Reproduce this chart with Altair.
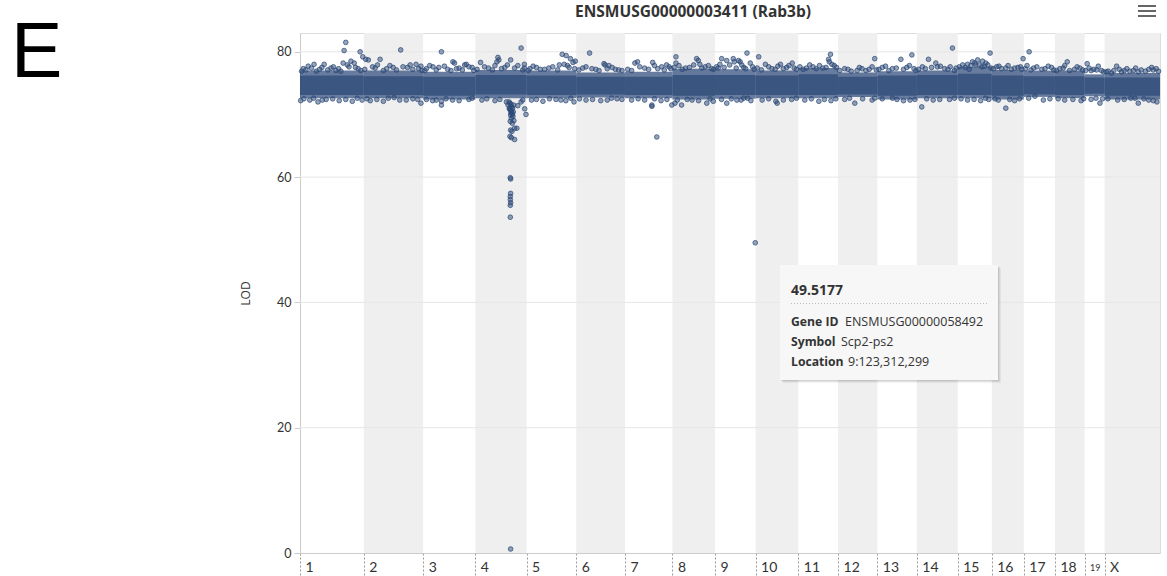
import altair as alt
import pandas as pd

# ---------------- data ----------------
chrom_names = ["1", "2", "3", "4", "5", "6", "7", "8", "9", "10",
               "11", "12", "13", "14", "15", "16", "17", "18", "19", "X"]
chrom_len_mb = [195.15, 181.76, 159.75, 156.86, 151.76, 149.59, 144.99, 130.13, 124.36, 130.53,
                121.97, 120.09, 120.88, 125.14, 104.07, 98.01, 95.29, 90.72, 61.42, 169.48]

# dense core of the LOD cloud per chromosome (outer / inner envelope)
band_outer_lo = [72.6, 72.6, 72.4, 72.6, 72.6, 72.7, 72.6, 72.4, 72.5, 72.6,
                 72.6, 72.8, 72.4, 72.6, 72.6, 72.4, 72.8, 72.6, 72.9, 72.4]
band_inner_lo = [73.1, 73.1, 73.0, 73.2, 73.1, 73.2, 73.1, 73.0, 73.1, 73.1,
                 73.1, 73.2, 73.0, 73.1, 73.1, 73.0, 73.2, 73.1, 73.3, 73.0]
band_inner_hi = [76.2, 76.1, 76.0, 76.3, 76.2, 76.0, 76.0, 76.3, 76.3, 76.2,
                 76.4, 76.0, 76.2, 76.3, 76.5, 76.2, 76.1, 76.1, 75.9, 75.9]
band_outer_hi = [77.0, 77.0, 76.8, 77.1, 77.0, 76.7, 76.8, 77.3, 77.2, 77.0,
                 77.4, 76.7, 76.9, 77.0, 77.6, 77.1, 77.0, 77.0, 76.4, 76.6]

# individual points outside the core: (position in Mb, LOD)
chr1_pts = [(10, 77.3), (25, 77.7), (43, 78.0), (60, 77.2), (74, 78.0), (95, 77.4), (110, 77.0),
            (132, 78.2), (140, 81.5), (135, 80.2), (150, 77.6), (156, 78.5), (166, 78.2), (184, 80.0),
            (192, 79.2), (178, 77.3), (2, 72.2), (30, 72.3), (55, 72.0), (80, 72.4), (120, 72.2),
            (160, 72.1), (190, 72.3),
            (5, 76.9), (18, 77.1), (35, 77.4), (50, 76.9), (67, 77.5), (85, 77.1), (102, 77.6),
            (118, 77.3), (125, 76.9), (145, 77.9), (170, 77.5), (186, 77.0), (12, 72.5), (42, 72.6),
            (68, 72.3), (100, 72.5), (140, 72.4), (175, 72.6)]
chr2_pts = [(6, 78.8), (14, 78.7), (27, 77.6), (50, 78.8), (70, 77.3), (90, 77.5), (113, 80.3),
            (134, 77.5), (150, 77.2), (160, 78.0), (175, 77.7), (20, 72.2), (60, 72.1), (93, 72.7),
            (130, 72.3), (175, 71.8), (165, 72.4),
            (3, 77.2), (35, 77.4), (42, 77.9), (60, 77.0), (80, 77.8), (100, 77.1), (120, 77.6),
            (142, 77.9), (168, 77.3), (178, 77.0), (10, 72.5), (40, 72.4), (75, 72.6), (110, 72.3),
            (150, 72.5)]
chr3_pts = [(10, 77.3), (30, 77.6), (56, 80.0), (75, 77.2), (91, 78.4), (96, 78.2), (110, 77.4),
            (127, 77.9), (132, 78.0), (150, 77.5), (29, 72.2), (56, 72.1), (56, 71.5), (90, 72.3),
            (140, 72.4),
            (5, 77.0), (20, 77.8), (40, 77.1), (48, 77.5), (65, 77.7), (85, 77.0), (102, 77.3),
            (120, 77.1), (140, 77.6), (155, 77.0), (10, 72.4), (40, 72.3), (70, 72.5), (110, 72.2),
            (150, 72.6)]
chr4_pts = [(16, 78.3), (40, 77.4), (66, 78.4), (69, 79.1), (72, 78.7), (90, 77.5), (108, 78.7),
            (140, 80.6), (150, 78.0), (150, 77.4), (20, 72.3), (60, 72.2), (95, 72.0), (100, 71.5),
            (105, 71.0), (107, 70.8), (110, 70.5), (112, 70.2), (108, 69.9), (115, 69.7), (110, 69.4),
            (118, 69.0), (107, 68.9), (113, 68.6), (120, 67.8), (108, 67.5), (127, 67.8), (112, 67.3),
            (106, 66.5), (120, 66.0), (110, 66.3), (151, 70.9), (155, 70.0), (130, 71.4), (140, 72.0),
            (103, 72.0), (106, 71.8), (109, 71.6), (111, 71.2), (114, 71.0), (117, 71.5), (104, 70.9),
            (113, 70.0), (116, 70.4), (109, 70.3), (107, 59.9), (108, 59.7), (108, 57.4), (107, 56.9),
            (107, 56.4), (108, 55.9), (107, 55.5), (107, 53.6), (108, 0.64),
            (5, 77.2), (28, 77.6), (52, 77.1), (60, 77.8), (80, 77.3), (98, 77.9), (120, 77.4),
            (130, 77.8), (145, 77.1), (35, 72.5), (75, 72.4), (145, 72.3)]
chr5_pts = [(10, 77.3), (30, 77.5), (55, 77.2), (80, 77.6), (109, 79.6), (121, 79.4), (134, 78.9),
            (142, 78.3), (149, 78.5), (125, 77.8), (15, 72.3), (50, 72.1), (90, 72.4), (120, 72.2),
            (145, 72.0),
            (5, 77.0), (20, 77.7), (42, 77.2), (68, 77.4), (95, 77.1), (100, 77.9), (115, 78.0),
            (130, 77.5), (147, 77.3), (30, 72.4), (70, 72.5), (105, 72.3), (135, 72.6)]
chr6_pts = [(41, 79.8), (88, 77.9), (85, 78.1), (20, 77.4), (60, 77.2), (110, 77.5), (130, 77.1),
            (108, 72.6), (30, 72.3), (75, 72.2), (140, 72.4),
            (8, 77.1), (30, 77.6), (48, 77.3), (70, 77.0), (95, 77.3), (100, 77.8), (120, 77.2),
            (140, 77.0), (10, 72.5), (50, 72.4), (95, 72.3), (125, 72.5)]
chr7_pts = [(30, 78.2), (38, 78.4), (60, 77.4), (84.5, 78.3), (112, 77.6), (127, 77.9), (140, 77.3),
            (82, 71.5), (82, 71.3), (143, 71.5), (20, 72.3), (110, 72.2), (97, 66.4),
            (8, 77.2), (20, 77.0), (45, 77.6), (72, 77.2), (90, 77.8), (100, 77.3), (120, 77.1),
            (135, 77.6), (40, 72.5), (60, 72.3), (90, 72.5), (128, 72.4)]
chr8_pts = [(10.7, 79.2), (10.7, 78.2), (40, 77.4), (74, 78.9), (79, 78.6), (84, 78.0), (100, 77.6),
            (120, 77.3), (7.6, 71.8), (28, 71.5), (105, 71.8), (125, 72.1), (60, 72.3),
            (5, 77.5), (20, 77.8), (30, 77.2), (52, 77.5), (65, 77.9), (90, 77.4), (110, 77.8),
            (126, 77.2), (15, 72.3), (45, 72.4), (80, 72.2), (115, 72.5)]
chr9_pts = [(20.5, 78.9), (36, 78.6), (56, 78.9), (59, 78.4), (72, 78.6), (77, 78.4), (98, 79.8),
            (108, 78.2), (88, 77.5), (10, 77.4), (36, 71.8), (67, 72.3), (88, 72.6), (110, 72.2),
            (123.31, 49.5177),
            (5, 77.6), (15, 78.0), (28, 77.5), (45, 77.9), (65, 77.4), (82, 77.9), (94, 77.3),
            (115, 77.6), (120, 77.2), (20, 72.4), (50, 72.5), (80, 72.3), (100, 72.6)]
chr10_pts = [(9.5, 79.2), (30, 78.0), (50, 77.3), (76, 78.0), (95, 77.5), (112, 78.2), (125, 77.2),
             (66, 71.8), (62, 72.1), (20, 72.3), (110, 72.4),
             (5, 77.4), (18, 77.1), (40, 77.6), (60, 77.2), (68, 77.7), (85, 77.3), (102, 77.8),
             (118, 77.4), (40, 72.5), (85, 72.3), (125, 72.6)]
chr11_pts = [(25, 77.4), (45, 77.6), (93, 78.8), (95, 78.4), (98.6, 79.6), (110, 77.8), (75, 77.4),
             (63, 72.1), (20, 72.3), (100, 72.2),
             (5, 77.6), (15, 77.2), (35, 77.9), (55, 77.3), (65, 77.8), (85, 77.5), (103, 78.0),
             (117, 77.5), (40, 72.5), (80, 72.4), (115, 72.5)]
chr12_pts = [(20, 77.3), (58, 77.0), (73, 77.3), (112, 78.9), (95, 77.2), (51, 71.8), (104, 72.3),
             (20, 72.4),
             (5, 77.0), (30, 77.2), (40, 76.9), (65, 77.5), (85, 77.0), (104, 77.6), (117, 77.1),
             (35, 72.6), (75, 72.5), (112, 72.6)]
chr13_pts = [(25, 77.7), (46, 77.3), (72, 78.8), (105.6, 79.5), (90, 77.5), (46.5, 72.6), (80, 72.2),
             (115, 72.4),
             (5, 77.2), (15, 77.5), (35, 77.0), (58, 77.4), (80, 77.2), (98, 77.8), (112, 77.3),
             (118, 77.0), (15, 72.5), (60, 72.4), (100, 72.3)]
chr14_pts = [(17, 77.6), (35.5, 78.8), (58, 78.2), (63, 77.6), (85, 77.3), (109, 80.6), (120, 77.4),
             (15, 71.2), (50, 72.3), (100, 72.4),
             (5, 77.2), (26, 77.3), (45, 77.5), (72, 77.7), (95, 77.2), (102, 77.6), (115, 77.0),
             (30, 72.5), (70, 72.4), (115, 72.6)]
chr15_pts = [(23, 77.5), (45, 78.4), (61, 78.7), (76, 78.5), (74, 77.6), (86, 78.2), (99, 79.8),
             (35, 77.2), (55, 77.9), (30, 72.3), (70, 72.2), (95, 72.4),
             (5, 77.6), (15, 77.9), (30, 78.0), (40, 77.8), (52, 78.2), (66, 77.9), (82, 77.7),
             (92, 77.9), (102, 77.4), (10, 72.5), (50, 72.4), (85, 72.6)]
chr16_pts = [(22, 77.7), (43, 77.4), (60, 77.2), (80, 77.5), (96, 78.9), (43, 71.0), (20, 72.3),
             (70, 72.2),
             (5, 77.3), (15, 77.6), (30, 77.3), (50, 77.8), (70, 77.4), (88, 77.6), (92, 77.2),
             (10, 72.5), (55, 72.4), (85, 72.5)]
chr17_pts = [(16.5, 80.0), (30, 77.4), (55, 77.2), (85, 77.5), (34, 72.9), (60, 72.3),
             (5, 77.3), (10, 77.8), (22, 77.1), (40, 77.6), (65, 77.3), (75, 77.7), (92, 77.1),
             (15, 72.6), (80, 72.5)]
chr18_pts = [(25.4, 77.4), (37.7, 78.4), (60, 77.2), (76.5, 77.4), (30, 72.3), (80, 72.2),
             (5, 77.0), (15, 77.3), (30, 77.8), (45, 77.0), (68, 77.6), (85, 77.1), (10, 72.5),
             (55, 72.4), (88, 72.5)]
chr19_pts = [(8, 78.1), (37, 77.1), (42, 77.7), (20, 77.0), (47, 71.8), (20, 72.4),
             (3, 77.0), (14, 77.4), (28, 77.2), (52, 77.0), (58, 76.8), (35, 72.6), (55, 72.5)]
chrX_pts = [(11, 76.9), (21, 76.6), (36.7, 77.7), (77, 76.9), (103, 76.8), (144, 77.5), (149, 77.1),
            (60, 77.0), (125, 76.9), (93, 72.6), (103, 71.8), (149, 72.2), (40, 72.3), (160, 72.0),
            (5, 76.8), (28, 77.0), (45, 77.2), (52, 76.8), (68, 77.3), (88, 77.0), (95, 77.4),
            (112, 77.1), (135, 77.2), (158, 77.3), (165, 76.9), (10, 72.5), (60, 72.4), (80, 72.6),
            (120, 72.5), (135, 72.3)]

y_ticks = [0, 20, 40, 60, 80]

title_text = "ENSMUSG00000003411 (Rab3b)"
panel_letter = "E"
tip_value = "49.5177"
tip_keys = ["Gene ID", "Symbol", "Location"]
tip_vals = ["ENSMUSG00000058492", "Scp2-ps2", "9:123,312,299"]

# ---------------- tables ----------------
starts = []
acc = 0.0
for L in chrom_len_mb:
    starts.append(round(acc, 2))
    acc += L
genome_end = round(acc, 2)

all_pts = [chr1_pts, chr2_pts, chr3_pts, chr4_pts, chr5_pts, chr6_pts, chr7_pts, chr8_pts,
           chr9_pts, chr10_pts, chr11_pts, chr12_pts, chr13_pts, chr14_pts, chr15_pts,
           chr16_pts, chr17_pts, chr18_pts, chr19_pts, chrX_pts]
rows = []
for i, pts in enumerate(all_pts):
    for p, v in pts:
        rows.append({"pos": starts[i] + p, "lod": v, "chr": chrom_names[i]})
pts_df = pd.DataFrame(rows)

band_df = pd.DataFrame({
    "pos": starts,
    "end": [s + L for s, L in zip(starts, chrom_len_mb)],
    "olo": band_outer_lo, "ohi": band_outer_hi,
    "ilo": band_inner_lo, "ihi": band_inner_hi,
})

shade_df = pd.DataFrame([{"pos": starts[i], "end": starts[i] + chrom_len_mb[i]}
                         for i in range(len(chrom_names)) if i % 2 == 1])
grid_df = pd.DataFrame({"lod": y_ticks[1:]})

# ---------------- scales / axes ----------------
C = "#2d4a78"
xs = alt.Scale(domain=[0, genome_end], nice=False, zero=False)
ys = alt.Scale(domain=[0, 83], nice=False)

names_js = "[" + ",".join("'%s'" % n for n in chrom_names) + "]"
starts_js = "[" + ",".join(repr(s) for s in starts) + "]"
xaxis = alt.Axis(
    values=starts, labelExpr=f"{names_js}[indexof({starts_js}, datum.value)]",
    title=None, grid=False, labelAlign="left", labelOffset=5, labelBaseline="middle",
    tickSize=22, tickDash=[2, 2], tickColor="#999999", tickWidth=1,
    labelPadding=-8, labelFont="Lato", labelColor="#333333",
    labelFontSize={"condition": {"test": f"datum.value == {starts[18]}", "value": 9}, "value": 14},
    labelOverlap=False, labelFlush=False, labelBound=False,
    domainColor="#cccccc", domainWidth=1,
)
yaxis = alt.Axis(
    values=y_ticks, title="LOD", grid=False, tickSize=6, tickColor="#cccccc",
    domainColor="#cccccc", domainWidth=1, labelFont="Lato", labelFontSize=12.5,
    labelColor="#333333", labelPadding=3, titleFont="Open Sans", titleFontSize=12,
    titleFontWeight="normal", titleColor="#333333", titlePadding=24,
)

shade = alt.Chart(shade_df).mark_rect(color="#efefef").encode(
    x=alt.X("pos:Q", scale=xs, axis=xaxis), x2="end:Q")
grid = alt.Chart(grid_df).mark_rule(color="#e6e6e6", strokeWidth=1).encode(
    y=alt.Y("lod:Q", scale=ys, axis=yaxis))
outer = alt.Chart(band_df).mark_rect(color=C, opacity=0.72).encode(
    x=alt.X("pos:Q", scale=xs, axis=xaxis), x2="end:Q",
    y=alt.Y("olo:Q", scale=ys, axis=yaxis), y2="ohi:Q")
inner = alt.Chart(band_df).mark_rect(color=C, opacity=0.75).encode(
    x=alt.X("pos:Q", scale=xs, axis=xaxis), x2="end:Q",
    y=alt.Y("ilo:Q", scale=ys, axis=yaxis), y2="ihi:Q")
points = alt.Chart(pts_df).mark_circle(
    size=22, fill=C, fillOpacity=0.5, stroke=C, strokeOpacity=0.9, strokeWidth=0.8).encode(
    x=alt.X("pos:Q", scale=xs, axis=xaxis), y=alt.Y("lod:Q", scale=ys, axis=yaxis))

one = pd.DataFrame({"t": [""]})
layers = [shade, grid, outer, inner, points]

# tooltip box
for dx, op in [(3, 0.05), (2, 0.06), (1, 0.08)]:
    layers.append(alt.Chart(one).mark_rect(color="#000000", opacity=op).encode(
        x=alt.value(480 + dx), x2=alt.value(698 + dx), y=alt.value(232 + dx), y2=alt.value(347 + dx)))
layers.append(alt.Chart(one).mark_rect(color="#f7f7f7").encode(
    x=alt.value(480), x2=alt.value(698), y=alt.value(232), y2=alt.value(347)))
layers.append(alt.Chart(one).mark_rule(color="#bbbbbb", strokeDash=[1, 2], strokeWidth=1).encode(
    x=alt.value(491), x2=alt.value(687), y=alt.value(270.5)))
layers.append(alt.Chart(pd.DataFrame({"t": [tip_value]})).mark_text(
    font="Open Sans", fontSize=14, fontWeight="bold", color="#333333", align="left",
    baseline="alphabetic").encode(x=alt.value(491), y=alt.value(262), text="t:N"))
key_y = [293, 313, 333]
val_x = [545, 541, 548]
for k, v, yy, vx in zip(tip_keys, tip_vals, key_y, val_x):
    layers.append(alt.Chart(pd.DataFrame({"t": [k]})).mark_text(
        font="Open Sans", fontSize=12.2, fontWeight="bold", color="#333333", align="left",
        baseline="alphabetic").encode(x=alt.value(491), y=alt.value(yy), text="t:N"))
    layers.append(alt.Chart(pd.DataFrame({"t": [v]})).mark_text(
        font="Open Sans", fontSize=12.5, color="#333333", align="left",
        baseline="alphabetic").encode(x=alt.value(vx), y=alt.value(yy), text="t:N"))

# chart title (as text so it stays at the top edge)
layers.append(alt.Chart(pd.DataFrame({"t": [title_text]})).mark_text(
    font="Open Sans", fontSize=15.5, fontWeight="bold", color="#333333", align="center",
    baseline="alphabetic").encode(x=alt.value(393), y=alt.value(-16), text="t:N"))

# hamburger menu icon
for yy in [-27, -22, -17]:
    layers.append(alt.Chart(one).mark_rule(color="#666666", strokeWidth=2).encode(
        x=alt.value(838), x2=alt.value(856), y=alt.value(yy)))

# panel letter
layers.append(alt.Chart(pd.DataFrame({"t": [panel_letter]})).mark_text(
    font="Liberation Sans", fontSize=77, color="#000000", align="left",
    baseline="alphabetic").encode(x=alt.value(-289), y=alt.value(44), text="t:N"))

chart = alt.layer(*layers).properties(
    width=860, height=520,
    padding={"left": 300, "top": 33, "right": 7, "bottom": 23},
    autosize=alt.AutoSizeParams(type="none"),
).configure_view(stroke=None).configure(background="white")

chart.save("out.html", embed_options={"renderer": "svg", "actions": False})
